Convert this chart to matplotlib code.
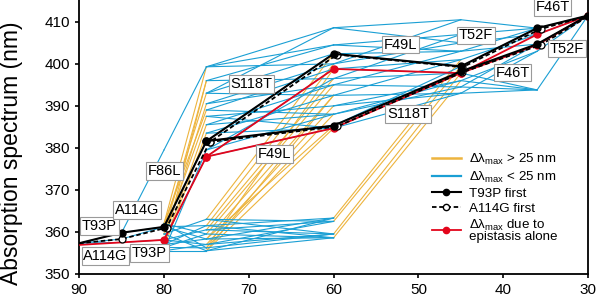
import matplotlib
matplotlib.use("Agg")
import matplotlib.pyplot as plt
from matplotlib.lines import Line2D

plt.rcParams['font.family'] = ['Liberation Sans', 'DejaVu Sans']
plt.rcParams['mathtext.fontset'] = 'custom'
plt.rcParams['mathtext.rm'] = 'Liberation Sans'

ORANGE = '#EDB43E'
BLUE = '#1A9FD4'
RED = '#E3051B'

# x position of each mutational step
level_x = [90, 85, 80, 75, 60, 45, 36, 30]

# absorption of the intermediates at each step (nm)
L0 = [357.3]
L1 = [359.8, 358.3, 357.5]
L2 = [355.5, 356.3, 357.0, 358.1, 359.5, 361.2, 362.0, 379.5]
L3 = [355.5, 356.2, 357.0, 358.3, 359.5, 360.5, 361.5, 363.0,
      377.9, 379.5, 381.6, 383.5, 385.5, 387.5, 389.0, 390.5, 393.0, 396.0, 399.3]
L4 = [358.6, 359.5, 362.5, 363.3, 384.7, 385.3, 388.0, 390.0,
      392.5, 395.0, 396.5, 398.8, 400.0, 402.4, 404.5, 408.6]
L5 = [393.0, 394.5, 396.0, 397.8, 399.4, 401.0, 403.0, 405.0, 407.0, 410.5]
L6 = [393.8, 403.0, 404.7, 407.0, 408.5]
L7 = [411.5]

# single-mutation links between neighbouring steps (index in step k, index in step k+1)
e01 = [(0, 0), (0, 1), (0, 2)]
e12 = [(0, 7), (0, 5), (1, 5), (2, 3)]
e23 = [(0, 0), (0, 2), (1, 1), (1, 4), (2, 3), (2, 6), (3, 2), (3, 5), (4, 0), (4, 7),
       (5, 3), (5, 6), (6, 4), (6, 1), (7, 18), (0, 9), (1, 11), (2, 12), (4, 13),
       (6, 14), (3, 15), (5, 16), (2, 17), (3, 8), (5, 10), (4, 17), (6, 18)]
e34 = [(0, 0), (1, 1), (2, 2), (3, 3), (4, 0), (5, 1), (6, 3), (7, 2), (0, 3), (3, 0),
       (5, 2), (7, 1), (2, 1), (6, 0),
       (0, 4), (1, 6), (2, 7), (3, 8), (4, 9), (5, 10), (6, 12), (7, 13), (1, 11),
       (3, 5), (0, 8),
       (8, 4), (8, 11), (10, 5), (10, 13), (18, 15), (18, 12), (17, 14), (16, 13),
       (15, 9), (14, 11), (13, 7), (12, 6), (11, 8), (9, 10), (9, 6), (17, 10),
       (16, 8), (15, 12), (14, 6), (13, 4), (12, 9), (11, 4), (18, 14), (16, 15)]
e45 = [(0, 2), (1, 3), (2, 4), (3, 5),
       (4, 0), (5, 4), (6, 1), (7, 2), (8, 5), (9, 6), (10, 3), (11, 3), (12, 7),
       (13, 4), (14, 8), (15, 9), (15, 7), (13, 6), (11, 5), (9, 1), (7, 0),
       (10, 8), (12, 9), (14, 6), (6, 2), (8, 0)]
e56 = [(0, 0), (1, 0), (2, 0), (0, 1), (1, 2), (2, 1), (3, 2), (4, 4), (5, 3),
       (6, 4), (7, 3), (8, 4), (9, 4), (3, 0), (6, 2)]
e67 = [(0, 0), (1, 0), (2, 0), (3, 0), (4, 0)]

levels = [L0, L1, L2, L3, L4, L5, L6, L7]
links = [e01, e12, e23, e34, e45, e56, e67]

# highlighted trajectories
t93p_x = [90, 85, 80, 75, 60, 45, 36, 30]
t93p_y = [357.3, 359.8, 361.2, 381.6, 402.4, 399.4, 408.5, 411.5]
t93p_alt_x = [75, 60, 45, 36, 30]
t93p_alt_y = [381.6, 385.3, 398.2, 404.7, 411.5]

a114g_x = [90, 85, 79.7, 74.6, 59.6, 44.8, 35.6, 29.8]
a114g_y = [357.3, 358.3, 361.0, 381.4, 402.2, 399.2, 408.3, 411.5]
a114g_alt_x = [74.6, 59.6, 44.8, 35.6, 29.8]
a114g_alt_y = [381.4, 385.1, 398.0, 404.5, 411.5]

epi_x = [90, 80, 75, 60, 45, 36, 30]
epi_y = [356.9, 358.1, 377.9, 398.8, 397.8, 407.0, 411.5]
epi_alt_x = [75, 60, 45, 36, 30]
epi_alt_y = [377.9, 384.7, 397.8, 404.5, 411.5]

# mutation labels
lab_text = ['T93P', 'A114G', 'A114G', 'T93P', 'F86L', 'S118T', 'F49L',
            'F49L', 'S118T', 'T52F', 'F46T', 'T52F', 'F46T']
lab_x = [87.6, 83.2, 86.9, 81.7, 79.9, 69.7, 67.0, 52.1, 51.2, 43.2, 34.2, 32.5, 38.9]
lab_y = [361.4, 365.2, 354.3, 355.0, 374.5, 395.2, 378.6, 404.6, 388.1, 406.8, 413.5, 403.6, 397.9]

fig = plt.figure(figsize=(6, 3), dpi=100)
ax = fig.add_axes([0.132, 0.087, 0.848, 0.913])

# network of all intermediates
for k, pairs in enumerate(links):
    for i, j in pairs:
        y0 = levels[k][i]
        y1 = levels[k + 1][j]
        col = ORANGE if abs(y1 - y0) > 25 else BLUE
        ax.plot([level_x[k], level_x[k + 1]], [y0, y1], color=col, lw=0.8,
                zorder=2 if col == BLUE else 1)

# epistasis-only path
for xs, ys in [(epi_x, epi_y), (epi_alt_x, epi_alt_y)]:
    ax.plot(xs, ys, color=RED, lw=1.3, marker='o', ms=5, mec=RED, mfc=RED,
            markevery=list(range(1, len(xs))) if xs[0] == 90 else None, zorder=4)

# A114G first (dashed, open markers)
for xs, ys in [(a114g_x, a114g_y), (a114g_alt_x, a114g_alt_y)]:
    ax.plot(xs, ys, color='black', lw=1.3, ls=(0, (2.5, 1.5)), marker='o', ms=5,
            mfc='white', mec='black', mew=0.9,
            markevery=list(range(1, len(xs))) if xs[0] == 90 else None, zorder=5)

# T93P first (solid, filled markers)
for xs, ys in [(t93p_x, t93p_y), (t93p_alt_x, t93p_alt_y)]:
    ax.plot(xs, ys, color='black', lw=1.5, marker='o', ms=5, mfc='black', mec='black',
            markevery=list(range(1, len(xs))) if xs[0] == 90 else None, zorder=6)

for t, x, y in zip(lab_text, lab_x, lab_y):
    ax.text(x, y, t, fontsize=10.5, ha='center', va='center', zorder=8,
            bbox=dict(boxstyle='square,pad=0.12', fc='white', ec='#9a9a9a', lw=0.8))

ax.set_xlim(90, 30)
ax.set_ylim(350, 415.2)
ax.set_xticks([90, 80, 70, 60, 50, 40, 30])
ax.set_yticks([350, 360, 370, 380, 390, 400, 410])
ax.tick_params(labelsize=11, direction='out', length=3, width=1.2)
ax.spines['top'].set_visible(False)
for s in ['left', 'bottom', 'right']:
    ax.spines[s].set_linewidth(1.3)
ax.set_ylabel('Absorption spectrum (nm)', fontsize=16.5)
ax.yaxis.set_label_coords(-0.11, 0.44)

handles = [
    Line2D([], [], color=ORANGE, lw=1.8),
    Line2D([], [], color=BLUE, lw=1.6),
    Line2D([], [], color='black', lw=1.5, marker='o', ms=4.5),
    Line2D([], [], color='black', lw=1.3, ls=(0, (2.5, 1.5)), marker='o', ms=4.5,
           mfc='white', mec='black'),
    Line2D([], [], color=RED, lw=1.3, marker='o', ms=4.5),
]
names = [r'Δλ$_{\mathrm{max}}$ > 25 nm', r'Δλ$_{\mathrm{max}}$ < 25 nm', 'T93P first',
         'A114G first', 'Δλ$_{\\mathrm{max}}$ due to\nepistasis alone']
leg = ax.legend(handles, names, loc='upper left', bbox_to_anchor=(0.693, 0.445),
                frameon=False, fontsize=9.6, handlelength=2.2, handletextpad=0.6,
                labelspacing=0.2, borderpad=0, borderaxespad=0)
for t in leg.get_texts():
    t.set_linespacing(0.85)

fig.savefig('out.png', dpi=100)
